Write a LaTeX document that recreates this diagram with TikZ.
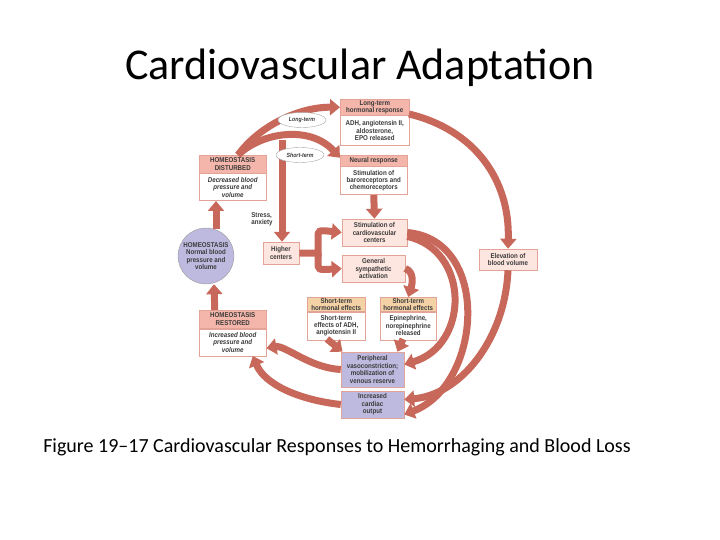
\documentclass[tikz,border=0pt]{standalone}
\usepackage{fontspec}
\setmainfont{Carlito}
\newfontfamily\lab[FakeStretch=0.88]{Liberation Sans}
\usetikzlibrary{arrows.meta,shapes.geometric}
\definecolor{arrc}{HTML}{C8685A}
\definecolor{hdr}{HTML}{F4B6AA}
\definecolor{bdy}{HTML}{FDE6DF}
\definecolor{tan}{HTML}{F3D2A6}
\definecolor{lav}{HTML}{BEBADF}
\definecolor{edg}{HTML}{E3A497}
\definecolor{txt}{HTML}{3A3A3A}
\tikzset{
 bx/.style={draw=edg,line width=0.5pt,align=center,inner sep=0.5pt,text=txt,font=\lab\bfseries\fontsize{7}{7.4}\selectfont},
 hd/.style={bx,fill=hdr},
 th/.style={bx,fill=tan},
 bd/.style={bx,fill=white},
 pk/.style={bx,fill=bdy},
 lv/.style={bx,fill=lav},
 arr/.style={draw=arrc,line width=7pt,-{Triangle[length=10pt,width=16pt]}},
 ell/.style={draw=gray!70,fill=white,ellipse,inner sep=0pt,minimum width=48pt,minimum height=15pt,font=\lab\itshape\bfseries\fontsize{6}{6.5}\selectfont,text=txt},
}
\begin{document}
\begin{tikzpicture}[x=1pt,y=-1pt]
\useasboundingbox (0,0) rectangle (720,540);
\node[font=\fontsize{44}{48}\selectfont] (title) at (360,68) {Cardiovascular Adaptation};
\node[font=\fontsize{20}{24}\selectfont] (cap) at (337,447) {Figure 19--17 Cardiovascular Responses to Hemorrhaging and Blood Loss};

\node[hd,minimum width=69pt,minimum height=16pt,anchor=north west] (lth) at (340,99) {Long-term\\hormonal response};
\node[bd,minimum width=69pt,minimum height=30pt,anchor=north] (ltb) at (lth.south) {ADH, angiotensin II,\\aldosterone,\\EPO released};
\node[hd,minimum width=67pt,minimum height=11pt,anchor=north west] (nrh) at (340,155) {Neural response};
\node[bd,minimum width=67pt,minimum height=28pt,anchor=north] (nrb) at (nrh.south) {Stimulation of\\baroreceptors and\\chemoreceptors};
\node[hd,minimum width=67pt,minimum height=18pt,anchor=north west] (hdh) at (199,155) {HOMEOSTASIS\\DISTURBED};
\node[bd,minimum width=67pt,minimum height=27pt,anchor=north,font=\lab\bfseries\itshape\fontsize{7}{7.4}\selectfont] (hdb) at (hdh.south) {Decreased blood\\pressure and\\volume};
\node[pk,minimum width=65pt,minimum height=27pt] (scc) at (374.5,232.5) {Stimulation of\\cardiovascular\\centers};
\node[pk,minimum width=63pt,minimum height=27pt] (gsa) at (373.5,268.5) {General\\sympathetic\\activation};
\node[pk,minimum width=36pt,minimum height=22pt] (hc) at (281,253) {Higher\\centers};
\node[pk,minimum width=58pt,minimum height=21pt] (ebv) at (508,259.5) {Elevation of\\blood volume};
\node[circle,draw=gray!80,fill=lav,minimum size=56pt,inner sep=0pt,align=center,text=txt,font=\lab\bfseries\fontsize{7}{7.4}\selectfont] (hom) at (206,256) {HOMEOSTASIS\\Normal blood\\pressure and\\volume};
\node[th,minimum width=58pt,minimum height=14pt,anchor=north west] (sl) at (307,297) {Short-term\\hormonal effects};
\node[bd,minimum width=58pt,minimum height=28pt,anchor=north] (slb) at (sl.south) {Short-term\\effects of ADH,\\angiotensin II};
\node[th,minimum width=56pt,minimum height=14pt,anchor=north west] (sr) at (380,297) {Short-term\\hormonal effects};
\node[bd,minimum width=56pt,minimum height=28pt,anchor=north] (srb) at (sr.south) {Epinephrine,\\norepinephrine\\released};
\node[hd,minimum width=67pt,minimum height=18pt,anchor=north west] (hrh) at (199,310) {HOMEOSTASIS\\RESTORED};
\node[bd,minimum width=67pt,minimum height=27pt,anchor=north,font=\lab\bfseries\itshape\fontsize{7}{7.4}\selectfont] (hrb) at (hrh.south) {Increased blood\\pressure and\\volume};
\node[lv,minimum width=63pt,minimum height=35pt] (pv) at (372.5,369.5) {Peripheral\\vasoconstriction;\\mobilization of\\venous reserve};
\node[lv,minimum width=63pt,minimum height=27pt] (co) at (372.5,404.5) {Increased\\cardiac\\output};
\node[align=left,text=txt,font=\lab\bfseries\fontsize{7}{7.4}\selectfont] (st) at (262,219) {Stress,\\anxiety};

\coordinate (c1) at (216,229);
\draw[arr] (c1) -- (hdb.south -| c1);
\coordinate (c2) at (238,155);
\draw[arr] (c2) .. controls (260,125) and (300,107) .. (lth.west);
\draw[arr] (c2) .. controls (262,132) and (310,125) .. ([yshift=3pt]nrh.west);
\coordinate (c3) at (282,140);
\draw[arr] (c3) -- (hc.north -| c3);
\draw[arr] (nrb.south) -- (scc.north);
\coordinate (c7) at (318,253);
\draw[arr] (hc.east) -- (c7) -- (318,238) .. controls (318,230) .. (scc.west);
\draw[arr] (c7) -- (318,262) .. controls (318,270) .. (gsa.west);
\coordinate (c4) at (409,114);
\draw[arr] (c4) .. controls (475,130) and (510,180) .. (ebv.north);
\draw[arr] (ebv.south) .. controls (505,340) and (460,395) .. ([yshift=5pt]co.east);
\draw[arr] ([yshift=-4pt]scc.east) .. controls (470,250) and (470,345) .. ([yshift=5pt]pv.east);
\draw[arr] (scc.east) .. controls (492,240) and (482,385) .. ([yshift=-10pt]co.east);
\draw[arr] (gsa.east) .. controls (415,272) and (412,285) .. (sr.north);
\coordinate (c5) at (403,339);
\draw[arr] (c5) -- ([xshift=25pt]pv.north);
\coordinate (c6) at (327,339);
\draw[arr] (c6) -- ([xshift=-30pt]pv.north);
\draw[arr] (pv.west) .. controls (310,368) and (285,345) .. ([yshift=-6pt]hrb.east);
\draw[arr] (co.west) .. controls (300,400) and (265,385) .. ([xshift=20pt]hrb.south);
\draw[arr] ([xshift=-18pt]hrh.north) -- ([xshift=8pt]hom.south);

\node[ell] (lte) at (302,120) {Long-term};
\node[ell] (ste) at (300,155) {Short-term};
\end{tikzpicture}
\end{document}
